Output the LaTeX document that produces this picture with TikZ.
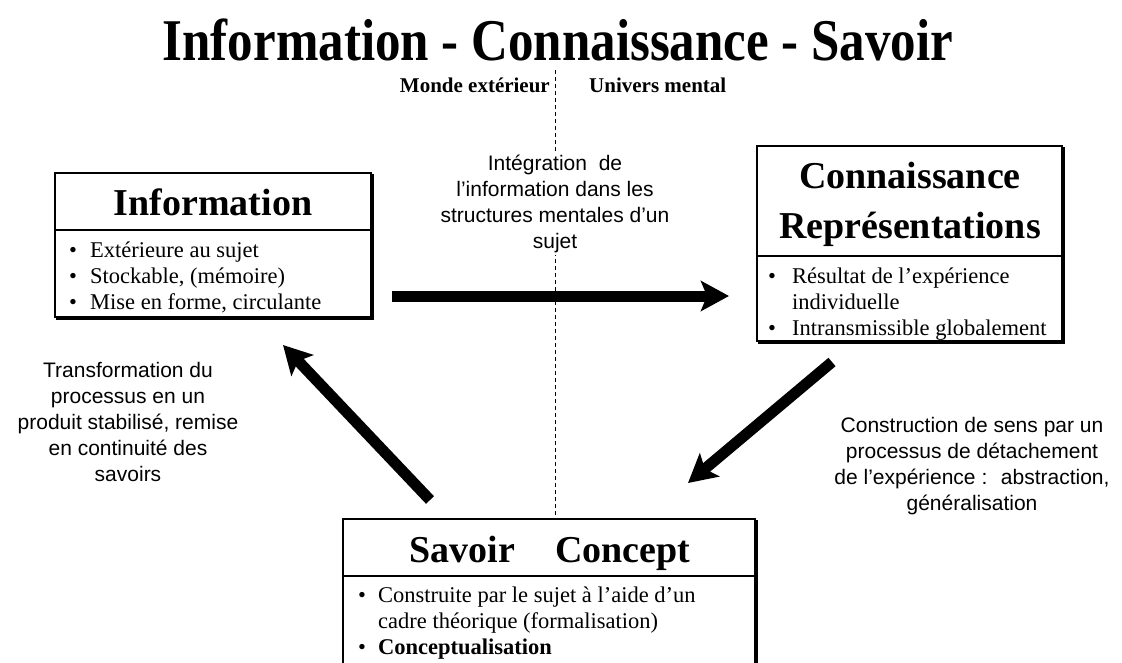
\documentclass[tikz,border=0pt]{standalone}
\usepackage{graphicx}
\usepackage{fontspec}
\setmainfont{Liberation Serif}
\setsansfont{Liberation Sans}
\usetikzlibrary{arrows.meta}
\newcommand\bul[1]{\makebox[#1][l]{•}}
\begin{document}
\begin{tikzpicture}[x=1pt,y=-1pt,
  boxline/.style={line width=1.6pt},
  shadowline/.style={line width=3pt},
  bigarrow/.style={line width=11pt, -{Stealth[length=28pt,width=30pt,inset=6pt]}},
  head/.style={font=\fontsize{38}{50}\selectfont\bfseries, inner sep=0pt, anchor=base},
  body/.style={font=\fontsize{22.5}{26}\selectfont, inner sep=0pt, anchor=base west},
  lab/.style={font=\sffamily\fontsize{21}{26}\selectfont, align=center, inner sep=2pt},
  side/.style={font=\fontsize{21}{25}\selectfont\bfseries, inner sep=0pt}]
\clip (0,0) rectangle (1122,662);
\fill[white] (0,0) rectangle (1122,662);

% title
\node[font=\fontsize{51}{60}\selectfont\bfseries, inner sep=0pt, anchor=base] (title) at (558,60)
  {\scalebox{1}[1.16]{Information - Connaissance - Savoir}};

% dashed separator
\coordinate (dtop) at (555,70);
\coordinate (dbot) at (555,519);
\draw[line width=0.8pt, dash pattern=on 4pt off 3pt] (dtop) -- (dbot);

\node[side, anchor=base east] (monde) at (550,92) {Monde extérieur};
\node[side, anchor=base west] (univ) at (589,92) {Univers mental};

% Information box
\draw[boxline, fill=white] (55,173) rectangle (371,317);
\draw[shadowline] (372.5,174) -- (372.5,318.5) -- (56,318.5);
\draw[boxline] (55,230) -- (371,230);
\node[head] (infoH) at (213,215) {Information};
\node[body] (infoB) at (69,257) {\begin{tabular}[t]{@{}l@{}}
  \bul{21pt}Extérieure au sujet\\
  \bul{21pt}Stockable, (mémoire)\\
  \bul{21pt}Mise en forme, circulante\end{tabular}};

% Connaissance box
\draw[boxline, fill=white] (757,146) rectangle (1062,341);
\draw[shadowline] (1063.5,147) -- (1063.5,342.5) -- (758,342.5);
\draw[boxline] (757,256) -- (1062,256);
\node[head] (conH1) at (910,188) {Connaissance};
\node[head] (conH2) at (910,238) {Représentations};
\node[body] (conB) at (768,283) {\begin{tabular}[t]{@{}l@{}}
  \bul{24pt}Résultat de l’expérience\\
  \hspace*{24pt}individuelle\\
  \bul{24pt}Intransmissible globalement\end{tabular}};

% Savoir box
\draw[boxline, fill=white] (343,519) rectangle (755,700);
\draw[shadowline] (756.5,520) -- (756.5,700);
\draw[boxline] (343,576) -- (755,576);
\node[head] (savH) at (550,562) {Savoir\hspace{40pt}Concept};
\node[body] (savB) at (358,602) {\begin{tabular}[t]{@{}l@{}}
  \bul{20pt}Construite par le sujet à l’aide d’un\\
  \hspace*{20pt}cadre théorique (formalisation)\\
  \bul{20pt}\textbf{Conceptualisation}\end{tabular}};

% labels
\node[lab, fill=white] (integ) at (555,204)
  {Intégration~ de\\l’information dans les\\structures mentales d’un\\sujet};
\node[lab] (transf) at (128,422)
  {Transformation du\\processus en un\\produit stabilisé, remise\\en continuité des\\savoirs};
\node[lab] (constr) at (972,466)
  {Construction de sens par un\\processus de détachement\\de l’expérience :~ abstraction,\\généralisation};

% arrows
\coordinate (a1s) at (392,296);
\coordinate (a1e) at (729,296);
\coordinate (a2s) at (832,362);
\coordinate (a2e) at (688,483);
\coordinate (a3s) at (430,500);
\coordinate (a3e) at (283,345);
\draw[bigarrow] (a1s) -- (a1e);
\draw[bigarrow] (a2s) -- (a2e);
\draw[bigarrow] (a3s) -- (a3e);
\end{tikzpicture}
\end{document}
